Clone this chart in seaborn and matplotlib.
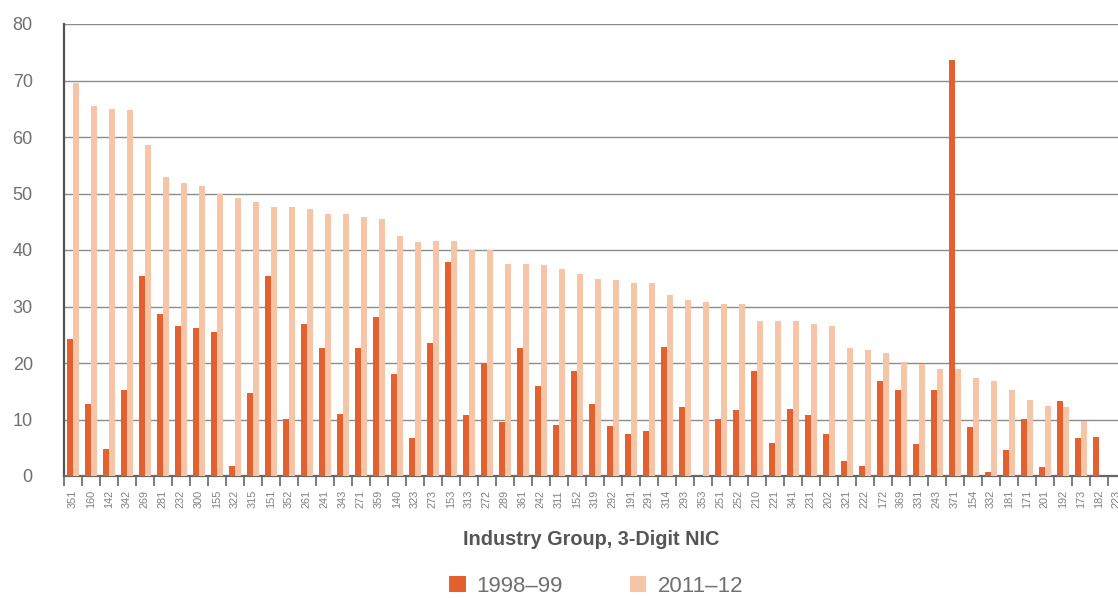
import matplotlib
matplotlib.use("Agg")
import matplotlib.pyplot as plt
import seaborn as sns
import pandas as pd
from matplotlib.patches import Patch
from matplotlib.ticker import FixedLocator

categories = ["351", "160", "142", "342", "269", "281", "232", "300", "155", "322",
              "315", "151", "352", "261", "241", "343", "271", "359", "140", "323",
              "273", "153", "313", "272", "289", "361", "242", "311", "152", "319",
              "292", "191", "291", "314", "293", "353", "251", "252", "210", "221",
              "341", "231", "202", "321", "222", "172", "369", "331", "243", "371",
              "154", "332", "181", "171", "201", "192", "173", "182", "223"]

values_1998 = [24.3, 12.7, 4.8, 15.2, 35.4, 28.7, 26.6, 26.2, 25.5, 1.8,
               14.7, 35.4, 10.1, 26.9, 22.7, 11.0, 22.7, 28.2, 18.1, 6.7,
               23.6, 37.9, 10.8, 20.0, 9.6, 22.7, 15.9, 9.0, 18.6, 12.8,
               8.9, 7.4, 8.0, 22.9, 12.2, 0.0, 10.1, 11.7, 18.6, 5.8,
               11.9, 10.8, 7.4, 2.7, 1.8, 16.8, 15.2, 5.7, 15.2, 73.7,
               8.7, 0.7, 4.6, 10.1, 1.6, 13.3, 6.7, 6.9, 0.0]

values_2011 = [69.6, 65.4, 65.0, 64.7, 58.5, 53.0, 51.9, 51.4, 49.9, 49.2,
               48.5, 47.6, 47.6, 47.3, 46.4, 46.4, 45.9, 45.5, 42.5, 41.5,
               41.6, 41.6, 40.0, 40.0, 37.6, 37.6, 37.4, 36.7, 35.8, 34.9,
               34.7, 34.2, 34.2, 32.1, 31.2, 30.8, 30.5, 30.5, 27.5, 27.5,
               27.5, 26.9, 26.6, 22.7, 22.3, 21.8, 20.2, 19.8, 19.0, 19.0,
               17.4, 16.8, 15.2, 13.5, 12.4, 12.2, 9.7, 0.0, 0.0]

series_labels = ["1998\u201399", "2011\u201312"]
y_ticks = [0, 10, 20, 30, 40, 50, 60, 70, 80]

df = pd.DataFrame({
    "NIC": categories * 2,
    "value": values_1998 + values_2011,
    "period": [series_labels[0]] * len(categories) + [series_labels[1]] * len(categories),
})

dark = "#E3612E"
light = "#F6C4A7"
palette = {series_labels[0]: dark, series_labels[1]: light}

sns.set_style("white")
plt.rcParams["font.family"] = ["Liberation Sans", "DejaVu Sans"]

fig = plt.figure(figsize=(11.18, 5.98), dpi=100)
ax = fig.add_axes([64 / 1118, 1 - 476 / 598, 1 - 64 / 1118, (476 - 24) / 598])

sns.barplot(data=df, x="NIC", y="value", hue="period", order=categories,
            hue_order=series_labels, palette=palette, width=0.667, gap=0,
            saturation=1, linewidth=0, ax=ax, legend=False, zorder=3)

ax.set_ylim(0, 80)
ax.set_xlim(-0.5, -0.5 + (1118 - 64) / 18)
ax.set_yticks(y_ticks)
ax.yaxis.grid(True, color="#8c8c8c", linewidth=1.0, zorder=0)
ax.set_axisbelow(True)

for s in ["top", "right"]:
    ax.spines[s].set_visible(False)
ax.spines["left"].set_color("#555555")
ax.spines["left"].set_linewidth(1.6)
ax.spines["bottom"].set_color("#666666")
ax.spines["bottom"].set_linewidth(1.6)

ax.tick_params(axis="y", length=11.5, width=1.0, color="#8c8c8c", pad=11,
               labelsize=13, labelcolor="#707070")
ax.tick_params(axis="x", which="major", length=0, pad=10, labelsize=7.8,
               labelcolor="#808080", labelrotation=90)
ax.xaxis.set_minor_locator(FixedLocator([i + 0.5 for i in range(-1, len(categories))]))
ax.tick_params(axis="x", which="minor", length=7, width=1.2, color="#666666", bottom=True)

ax.set_ylabel("")
ax.set_xlabel("Industry Group, 3-Digit NIC", fontsize=14.3, fontweight="bold",
              color="#555555", labelpad=16)

handles = [Patch(facecolor=dark, edgecolor="none"), Patch(facecolor=light, edgecolor="none")]
fig.legend(handles, series_labels, loc="center", bbox_to_anchor=(0.533, 0.02),
           ncol=2, frameon=False, handlelength=0.75, handleheight=0.75,
           handletextpad=0.5, columnspacing=3.0, fontsize=16, labelcolor="#707070")

fig.savefig("out.png", dpi=100)
